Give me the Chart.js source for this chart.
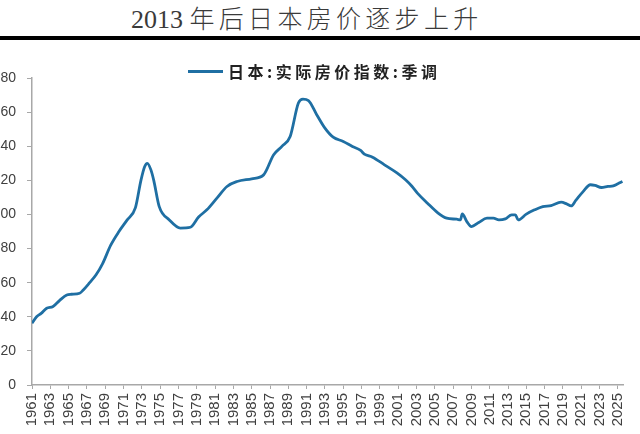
<!DOCTYPE html>
<html>
<head>
<meta charset="utf-8">
<script src="https://cdn.jsdelivr.net/npm/chart.js@4.4.1/dist/chart.umd.min.js"></script>
<style>
  html, body { margin:0; padding:0; background:#fff; width:640px; height:434px; overflow:hidden; }
  #title { position:absolute; left:131px; top:0px; height:34px; line-height:34px; white-space:nowrap;
           font-family:"Liberation Serif","Noto Sans CJK SC",serif; font-size:26px; color:#3a3a3a; font-weight:300; }
  #title .cjk { font-family:"Noto Sans CJK SC",sans-serif; font-weight:300; letter-spacing:4.3px; font-size:25px; }
  #rule { position:absolute; left:0; top:36px; width:640px; height:4px; background:#000; }
  #wrap { position:absolute; left:-12px; top:0; width:652px; height:434px; }
  #legline { position:absolute; left:188px; top:70px; width:35px; height:3px; background:#1f6fa3; }
  #legtext { position:absolute; left:228px; top:60px; line-height:22px; white-space:nowrap;
             font-family:"Noto Sans CJK SC",sans-serif; font-weight:bold; font-size:16px; letter-spacing:3.5px; color:#222; }
</style>
</head>
<body>
<div id="title">2013 <span class="cjk">年后日本房价逐步上升</span></div>
<div id="rule"></div>
<div id="wrap"><canvas id="c"></canvas></div>
<div id="legline"></div>
<div id="legtext"></div>
<script>
const seriesName = "日本:实际房价指数:季调";
const years = [1961.0,1961.5,1962.0,1962.6,1963.3,1964.0,1964.8,1965.3,1966.2,1966.6,1967.3,1968.0,1968.7,1969.6,1970.5,1971.4,1972.3,1972.9,1973.3,1973.6,1974.0,1974.3,1974.9,1976.0,1977.2,1978.3,1979.2,1980.1,1981.2,1982.3,1983.4,1985.0,1986.3,1987.4,1988.3,1989.2,1990.1,1990.6,1991.2,1992.1,1993.0,1993.9,1995.0,1996.0,1996.9,1997.3,1998.2,1999.5,2000.9,2001.8,2002.5,2003.1,2004.2,2005.3,2006.3,2007.4,2007.8,2008.0,2008.5,2009.0,2009.8,2010.7,2011.4,2012.0,2012.7,2013.4,2013.8,2014.1,2015.0,2015.9,2016.8,2017.7,2018.8,2019.4,2019.9,2020.4,2021.2,2022.0,2022.5,2023.2,2023.9,2024.5,2025.0,2025.5];
const values = [36.2,40.0,42.0,45.0,46.0,49.5,52.8,53.2,53.8,55.7,60.0,64.6,71.0,82.0,90.0,96.8,104.0,120.0,128.0,130.0,126.0,120.0,104.6,96.8,92.0,92.5,98.5,102.7,109.6,116.4,119.3,120.9,123.2,135.0,139.9,145.7,165.3,167.6,166.8,158.5,150.6,145.3,142.8,139.9,137.5,135.4,133.6,129.1,124.2,120.3,116.5,112.5,106.6,101.1,97.8,97.2,96.8,100.3,95.8,92.9,95.3,97.8,97.8,96.8,97.4,99.8,99.8,96.8,100.2,102.7,104.6,105.2,107.2,106.2,105.0,108.2,113.4,117.4,117.0,115.8,116.4,116.8,118.0,119.3];
const xTickYears = [1961,1963,1965,1967,1969,1971,1973,1975,1977,1979,1981,1983,1985,1987,1989,1991,1993,1995,1997,1999,2001,2003,2005,2007,2009,2011,2013,2015,2017,2019,2021,2023,2025];
const yTicks = [0,20,40,60,80,100,120,140,160,180];

const lineColor = '#1f6fa3';
const axisColor = '#a8a8a8';
const labelColor = '#404040';

document.getElementById('legtext').textContent = seriesName;

new Chart(document.getElementById('c'), {
  type: 'line',
  data: {
    datasets: [{
      label: seriesName,
      data: years.map((y, i) => ({x: y, y: values[i]})),
      borderColor: lineColor,
      backgroundColor: lineColor,
      borderWidth: 2.8,
      pointRadius: 0,
      cubicInterpolationMode: 'monotone',
      fill: false
    }]
  },
  options: {
    responsive: true,
    maintainAspectRatio: false,
    animation: false,
    devicePixelRatio: 1,
    layout: { padding: { top: 78, right: 13, left: 0, bottom: 0 } },
    plugins: {
      tooltip: { enabled: false },
      legend: { display: false }
    },
    scales: {
      x: {
        type: 'linear',
        min: 1961,
        max: 2025.6,
        afterBuildTicks: (axis) => { axis.ticks = xTickYears.map(v => ({value: v})); },
        afterFit: (axis) => { axis.height = 49; },
        grid: { display: true, drawOnChartArea: false, drawTicks: true, tickLength: 4, color: axisColor, lineWidth: 1 },
        border: { display: true, color: axisColor, width: 1.5 },
        ticks: {
          autoSkip: false,
          maxRotation: 90,
          minRotation: 90,
          padding: 4,
          color: labelColor,
          font: { family: '"Liberation Sans", sans-serif', size: 15 },
          callback: (v) => String(v)
        }
      },
      y: {
        min: 0,
        max: 180,
        afterBuildTicks: (axis) => { axis.ticks = yTicks.map(v => ({value: v})); },
        afterFit: (axis) => { axis.width = 44; },
        grid: { display: true, drawOnChartArea: false, drawTicks: true, tickLength: 5, color: axisColor, lineWidth: 1 },
        border: { display: true, color: axisColor, width: 1.5 },
        ticks: {
          padding: 11,
          color: labelColor,
          font: { family: '"Liberation Sans", sans-serif', size: 14 },
          callback: (v) => String(v)
        }
      }
    }
  }
});
</script>
</body>
</html>
